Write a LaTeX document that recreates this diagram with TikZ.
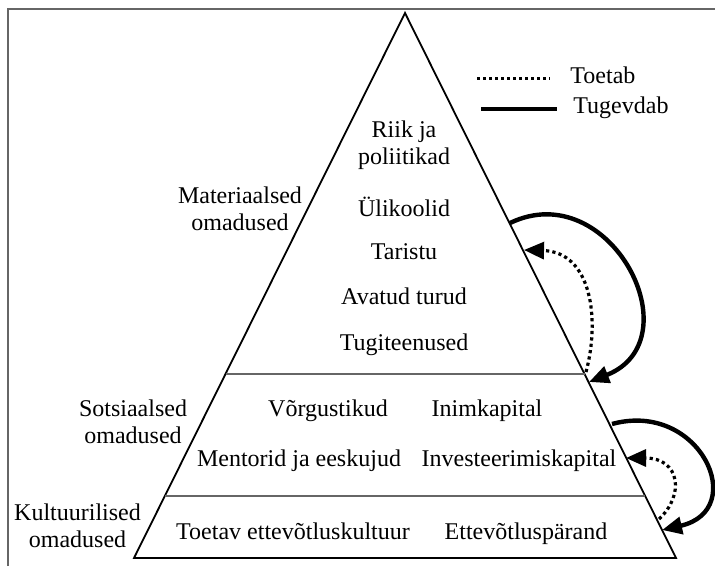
\documentclass[tikz,border=0pt]{standalone}
\usepackage{fontspec}
\setmainfont{Liberation Serif}
\usetikzlibrary{arrows.meta}
\begin{document}
\begin{tikzpicture}[x=0.5pt,y=-0.5pt,
  lbl/.style={font=\fontsize{12}{13.5}\selectfont, inner sep=0pt, align=center},
  one/.style={lbl, text height=8.5pt, text depth=2.6pt},
  legtxt/.style={font=\fontsize{12}{13.5}\selectfont, inner sep=0pt, anchor=west, text height=8.5pt, text depth=2.6pt},
  frameline/.style={draw=black!60, line width=1pt},
  pyr/.style={draw=black, line width=0.9pt, line join=miter},
  divline/.style={draw=black!60, line width=0.6pt},
  strong/.style={draw=black, line width=2.2pt, -{Triangle[length=10pt,width=8.5pt]}},
  support/.style={draw=black, line width=1.6pt, dash pattern=on 1.6pt off 1.6pt, -{Triangle[length=10pt,width=8.5pt]}},
  strongleg/.style={draw=black, line width=1.6pt},
  supportleg/.style={draw=black, line width=1.5pt, dash pattern=on 1.5pt off 1.5pt}
]
\useasboundingbox (0,0) rectangle (715,566);
% frame
\draw[frameline] (8,566) -- (8,9) -- (715,9);
% pyramid
\coordinate (apex) at (405,13);
\coordinate (bl) at (134,558);
\coordinate (br) at (676,558);
\draw[pyr] (apex) -- (br) -- (bl) -- cycle;
\coordinate (d1l) at (226,374);
\coordinate (d1r) at (584.5,374);
\coordinate (d2l) at (164.5,496);
\coordinate (d2r) at (645,496);
\draw[divline] (d1l) -- (d1r);
\draw[divline] (d2l) -- (d2r);
% top tier
\node[lbl] (riik) at (404,145) {Riik ja\\poliitikad};
\node[one] (uli) at (404,211) {Ülikoolid};
\node[one] (tar) at (404,254) {Taristu};
\node[one] (ava) at (404,299) {Avatud turud};
\node[one] (tug) at (404,345) {Tugiteenused};
\node[lbl] (mat) at (240,209) {Materiaalsed\\omadused};
% middle tier
\node[one] (vor) at (328,411) {Võrgustikud};
\node[one] (ini) at (487,411) {Inimkapital};
\node[one] (men) at (299,461) {Mentorid ja eeskujud};
\node[one] (inv) at (519,461) {Investeerimiskapital};
\node[lbl] (sot) at (133,422) {Sotsiaalsed\\omadused};
% bottom tier
\node[one] (toe) at (293,534) {Toetav ettevõtluskultuur};
\node[one] (ett) at (526,534) {Ettevõtluspärand};
\node[lbl] (kul) at (77.5,526) {Kultuurilised\\omadused};
% legend
\coordinate (l1a) at (477,79);
\coordinate (l1b) at (550,79);
\coordinate (l2a) at (481,109);
\coordinate (l2b) at (557,109);
\draw[supportleg] (l1a) -- (l1b);
\draw[strongleg] (l2a) -- (l2b);
\node[legtxt] (legt) at (570,78) {Toetab};
\node[legtxt] (legs) at (573,108) {Tugevdab};
% arrows upper
\coordinate (s1a) at (510,223);
\coordinate (s1b) at (589,382);
\draw[strong] (s1a) .. controls (610,175) and (695,340) .. (s1b);
\coordinate (t1a) at (586,372);
\coordinate (t1b) at (524,250);
\draw[support] (t1a) .. controls (600,320) and (592,252) .. (t1b);
% arrows lower
\coordinate (s2a) at (612,424);
\coordinate (s2b) at (662,530);
\draw[strong] (s2a) .. controls (700,400) and (750,510) .. (s2b);
\coordinate (t2a) at (659,519);
\coordinate (t2b) at (626,458);
\draw[support] (t2a) .. controls (685,495) and (680,458) .. (t2b);
\end{tikzpicture}
\end{document}
